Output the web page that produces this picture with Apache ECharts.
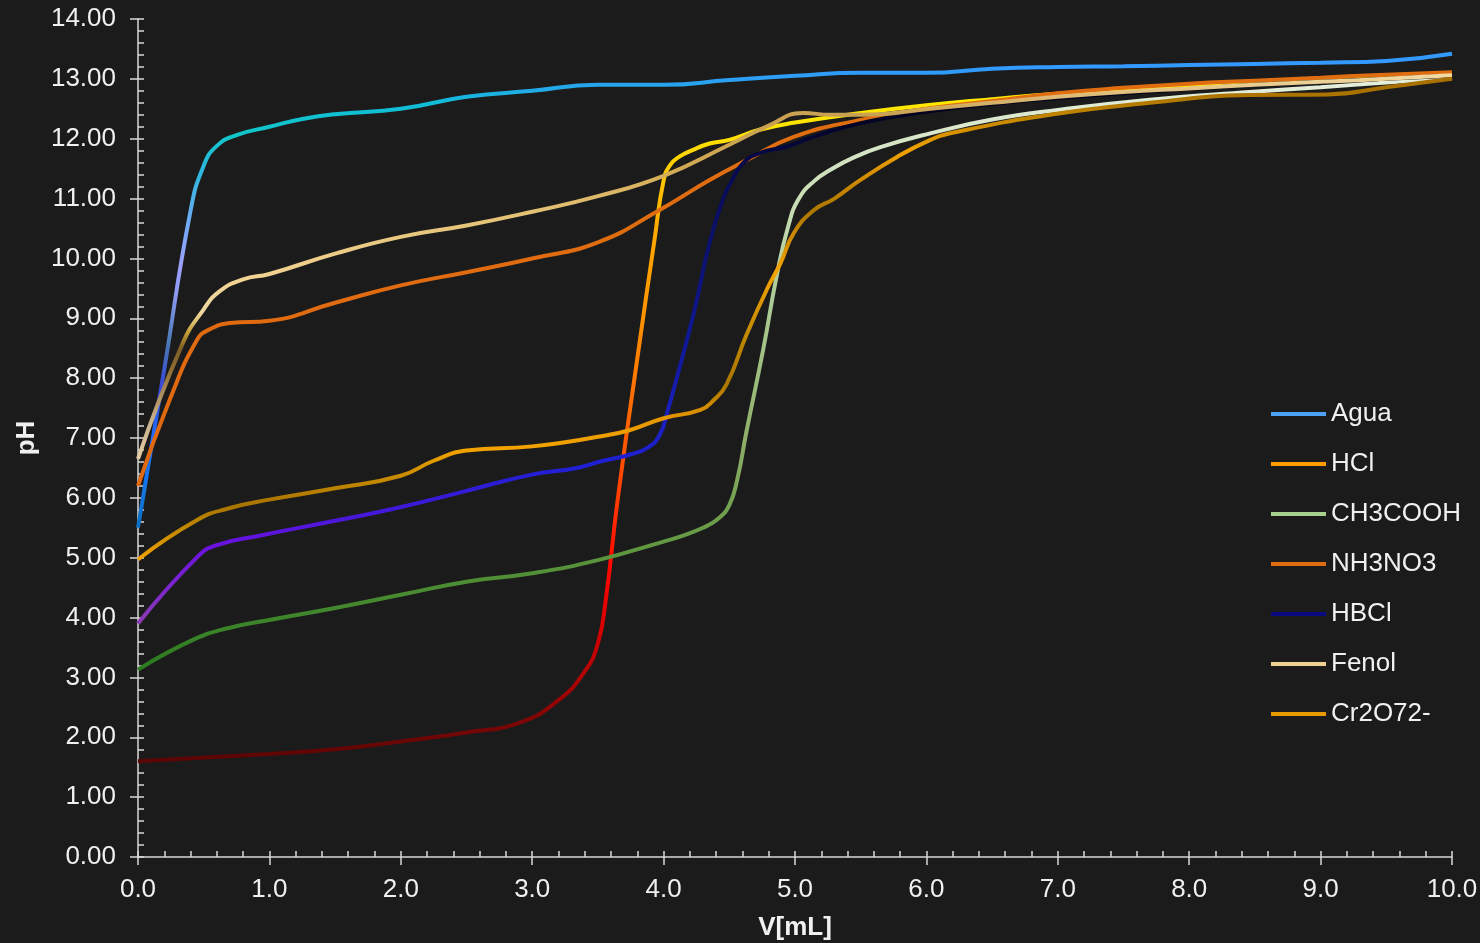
<!DOCTYPE html>
<html><head><meta charset="utf-8">
<script src="https://cdn.jsdelivr.net/npm/echarts@6/dist/echarts.min.js"></script>
<style>html,body{margin:0;padding:0;background:#1b1b1b;}#c{width:1480px;height:943px;}</style>
</head><body><div id="c"></div>
<script>
// ---- data (x = V[mL], y = pH) ----
const seriesNames = ['Agua','HCl','CH3COOH','NH3NO3','HBCl','Fenol','Cr2O72-'];
const aguaData = [[0,5.5],[0.2,8.15],[0.4,10.8],[0.5,11.55],[0.6,11.88],[0.75,12.06],[1,12.2],[1.25,12.33],[1.5,12.41],[2,12.5],[2.5,12.7],[3,12.8],[3.5,12.9],[4,12.9],[4.5,12.98],[5,13.05],[5.5,13.1],[6,13.1],[6.5,13.17],[7,13.2],[7.5,13.21],[8,13.23],[8.5,13.25],[9,13.27],[9.5,13.3],[10,13.42]];
const hclData = [[0,1.6],[1,1.72],[1.5,1.8],[2,1.93],[2.5,2.08],[2.9,2.24],[3.2,2.62],[3.4,3.1],[3.5,3.57],[3.56,4.3],[3.65,5.96],[3.8,8.33],[3.93,10.3],[4,11.3],[4.05,11.56],[4.12,11.7],[4.22,11.81],[4.35,11.92],[4.5,11.98],[4.73,12.15],[5,12.27],[5.5,12.43],[6,12.56],[6.5,12.66],[7,12.75],[7.5,12.82],[8,12.88],[8.5,12.93],[9,12.98],[9.5,13.03],[10,13.08]];
const ch3coohData = [[0,3.13],[0.45,3.66],[0.7,3.83],[1,3.96],[1.5,4.16],[2,4.38],[2.5,4.6],[3,4.74],[3.5,4.96],[4,5.27],[4.12,5.35],[4.3,5.5],[4.42,5.66],[4.5,5.88],[4.56,6.3],[4.63,7.1],[4.76,8.5],[4.86,9.7],[4.95,10.55],[5.03,11.0],[5.15,11.3],[5.27,11.48],[5.44,11.68],[5.65,11.86],[6.03,12.09],[6.5,12.32],[7,12.48],[7.7,12.65],[8.46,12.78],[9,12.86],[9.5,12.94],[10,13.02]];
const nh3no3Data = [[0,6.2],[0.24,7.63],[0.45,8.64],[0.55,8.82],[0.7,8.92],[1,8.96],[1.5,9.26],[2,9.55],[2.5,9.77],[3,10],[3.5,10.27],[3.97,10.81],[4.35,11.31],[4.63,11.64],[4.99,12.03],[5.49,12.31],[6,12.5],[6.5,12.63],[7,12.76],[7.5,12.85],[8,12.92],[8.5,12.97],[9,13.02],[9.5,13.07],[10,13.11]];
const hbclData = [[0,3.9],[0.45,5.01],[0.6,5.21],[0.95,5.38],[1.46,5.6],[1.97,5.83],[2.47,6.1],[2.98,6.38],[3.34,6.5],[3.54,6.62],[3.74,6.72],[3.88,6.84],[3.97,7.05],[4.03,7.45],[4.1,8.0],[4.23,9.09],[4.35,10.26],[4.45,10.98],[4.52,11.3],[4.6,11.58],[4.73,11.76],[4.94,11.87],[5.14,12.03],[5.5,12.26],[6,12.45],[6.5,12.58],[7,12.68],[7.5,12.76],[8,12.83],[8.5,12.9],[9,12.95],[9.5,13],[10,13.05]];
const fenolData = [[0,6.65],[0.34,8.58],[0.5,9.15],[0.62,9.45],[0.8,9.65],[1,9.74],[1.5,10.08],[2,10.36],[2.5,10.55],[3,10.78],[3.5,11.04],[4,11.38],[4.5,11.9],[4.8,12.22],[5.06,12.43],[5.27,12.4],[5.52,12.4],[6.03,12.5],[6.5,12.6],[7,12.7],[7.5,12.78],[8,12.84],[8.5,12.9],[9,12.95],[9.5,13],[10,13.06]];
const cr2o7Data = [[0,4.97],[0.45,5.63],[0.7,5.83],[1,5.97],[1.5,6.16],[2,6.37],[2.25,6.62],[2.5,6.79],[3,6.86],[3.5,7.02],[3.74,7.13],[4,7.33],[4.28,7.47],[4.38,7.63],[4.48,7.9],[4.63,8.72],[4.79,9.5],[4.89,9.92],[4.99,10.42],[5.14,10.8],[5.3,11],[5.49,11.3],[5.78,11.7],[6.03,11.98],[6.18,12.09],[6.94,12.4],[7.7,12.6],[8.46,12.73],[9.05,12.74],[9.5,12.86],[10,13]];

// ---- colour stops along pH (value, colour) ----
const aguaStops = [[5.5,'#0b6fbd'],[6.2,'#1576e8'],[7.0,'#1f6cff'],[7.9,'#3a48d6'],[8.6,'#4a7ab4'],[9.4,'#8c9af2'],[9.9,'#9ca0ff'],[10.6,'#6eaaf4'],[11.5,'#2ab8dc'],[12.1,'#10c6c8'],[12.6,'#12bcd8'],[12.95,'#2aa0f0'],[13.2,'#3399ff']];
const hclStops = [[1.6,'#5a0505'],[2.2,'#7a0606'],[3.0,'#b00404'],[4.0,'#e00000'],[5.0,'#ff0a00'],[6.0,'#ff3c00'],[7.5,'#ff6a00'],[9.0,'#ff9200'],[10.5,'#ffaa00'],[11.5,'#ffcc00'],[12.0,'#ffe000'],[13.1,'#ffee00']];
const ch3coohStops = [[3.1,'#2a7a1e'],[4.5,'#4a8c32'],[5.5,'#6a9c48'],[7.0,'#8fb06a'],[9.0,'#a8c890'],[10.7,'#c4dab0'],[12.0,'#d8e6c8'],[13.1,'#e6efdc']];
const nh3no3Stops = [[6.0,'#e06810'],[13.2,'#e06e10']];
const hbclStops = [[3.9,'#8a3cb2'],[4.6,'#7a22d0'],[5.2,'#6c12e0'],[5.8,'#4018d8'],[6.5,'#2020d4'],[7.3,'#1a20c0'],[8.5,'#10189a'],[10,'#0c1274'],[11.5,'#080a50'],[12.3,'#040424'],[13.1,'#000010']];
const fenolStops = [[6.6,'#e6d0a4'],[7.3,'#c8b08a'],[8.1,'#927038'],[8.5,'#7e5e24'],[8.75,'#c49c34'],[9.1,'#f0d8a0'],[9.8,'#f0d08e'],[10.8,'#e2c074'],[11.5,'#d2aa54'],[12.4,'#c8a050'],[12.8,'#e2c282'],[13.1,'#f6dea8']];
const cr2o7Stops = [[4.95,'#f2a200'],[5.5,'#c08800'],[5.9,'#a87400'],[6.4,'#cc8e00'],[6.8,'#f2a200'],[7.3,'#e69800'],[7.9,'#ac7600'],[8.7,'#c08800'],[9.8,'#f4a400'],[10.8,'#ac7600'],[11.8,'#f0a000'],[12.4,'#c08400'],[12.8,'#a87000'],[13.2,'#a87000']];
const legendColors = ['#4da3f5','#ff9a00','#a9d18e','#e06c10','#0a0a80','#f0d090','#e69a00'];

const allData = [aguaData,hclData,ch3coohData,nh3no3Data,hbclData,fenolData,cr2o7Data];
const allStops = [aguaStops,hclStops,ch3coohStops,nh3no3Stops,hbclStops,fenolStops,cr2o7Stops];

function hex(c){return [parseInt(c.substr(1,2),16),parseInt(c.substr(3,2),16),parseInt(c.substr(5,2),16)];}
function colorAt(stops,v){
  if(v<=stops[0][0]) return stops[0][1];
  if(v>=stops[stops.length-1][0]) return stops[stops.length-1][1];
  for(let i=1;i<stops.length;i++){
    if(v<=stops[i][0]){
      const t=(v-stops[i-1][0])/(stops[i][0]-stops[i-1][0]);
      const a=hex(stops[i-1][1]),b=hex(stops[i][1]);
      return 'rgb('+a.map((x,k)=>Math.round(x+(b[k]-x)*t)).join(',')+')';
    }
  }
}
function sampled(stops){const out=[];for(let i=0;i<=280;i++){out.push(colorAt(stops,i*0.05));}return out;}

const axisCol='#d9d9d9', txtCol='#f0f0f0', font='Liberation Sans, Arial, sans-serif';
const chart = echarts.init(document.getElementById('c'));
chart.setOption({
  backgroundColor:'#1b1b1b',
  animation:false,
  grid:{left:138,right:28,top:19,bottom:86,containLabel:false,outerBoundsMode:'none'},
  legend:{
    orient:'vertical',left:1266,top:396,itemWidth:55,itemHeight:4,itemGap:24,
    icon:'rect',
    textStyle:{color:txtCol,fontSize:26,fontFamily:font},
    data:seriesNames.map((n,i)=>({name:n,icon:'rect',itemStyle:{color:legendColors[i]}}))
  },
  visualMap: allStops.map((s,i)=>({type:'continuous',show:false,seriesIndex:i,dimension:1,min:0,max:14,inRange:{color:sampled(s)}})),
  xAxis:[
    {type:'value',min:0,max:10,interval:1,position:'bottom',
     axisLine:{show:true,onZero:false,lineStyle:{color:axisCol,width:1.5}},
     axisTick:{show:true,length:8,lineStyle:{color:axisCol,width:1.5}},
     axisLabel:{color:txtCol,fontSize:26,fontFamily:font,margin:20,formatter:v=>v.toFixed(1)},
     splitLine:{show:false},
     name:'V[mL]',nameLocation:'middle',nameGap:58,
     nameTextStyle:{color:txtCol,fontSize:26,fontWeight:'bold',fontFamily:font}},
    {type:'value',min:0,max:10,interval:1,position:'bottom',
     axisLine:{show:false,onZero:false},
     axisTick:{show:true,inside:true,length:6,lineStyle:{color:axisCol,width:1.5}},
     minorTick:{show:true,splitNumber:5,length:6,lineStyle:{color:axisCol,width:1.5}},
     axisLabel:{show:false},splitLine:{show:false},minorSplitLine:{show:false}}
  ],
  yAxis:[
    {type:'value',min:0,max:14,interval:1,position:'left',
     axisLine:{show:true,onZero:false,lineStyle:{color:axisCol,width:1.5}},
     axisTick:{show:true,length:8,lineStyle:{color:axisCol,width:1.5}},
     axisLabel:{color:txtCol,fontSize:26,fontFamily:font,margin:22,formatter:v=>v.toFixed(2)},
     splitLine:{show:false},
     name:'pH',nameLocation:'middle',nameGap:97,
     nameTextStyle:{color:txtCol,fontSize:26,fontWeight:'bold',fontFamily:font}},
    {type:'value',min:0,max:14,interval:1,position:'left',
     axisLine:{show:false,onZero:false},
     axisTick:{show:true,inside:true,length:6,lineStyle:{color:axisCol,width:1.5}},
     minorTick:{show:true,splitNumber:5,length:6,lineStyle:{color:axisCol,width:1.5}},
     axisLabel:{show:false},splitLine:{show:false},minorSplitLine:{show:false}}
  ],
  series: seriesNames.map((n,i)=>({
    name:n,type:'line',data:allData[i],smooth:0.5,symbol:'none',showSymbol:false,
    xAxisIndex:0,yAxisIndex:0,color:legendColors[i],
    lineStyle:{width:4}
  }))
});
</script></body></html>
